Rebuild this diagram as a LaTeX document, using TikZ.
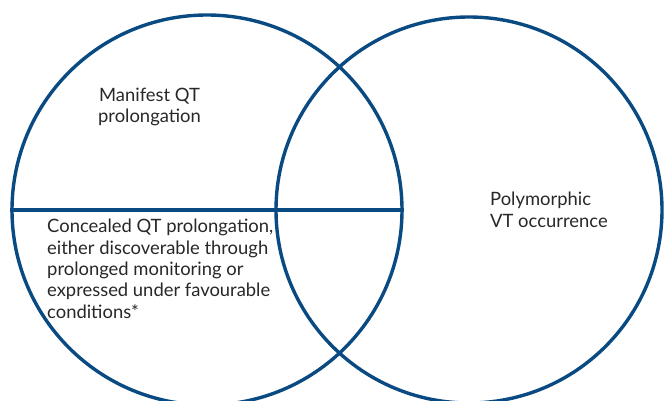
\documentclass[tikz,border=0pt]{standalone}
\usepackage{fontspec}
\setmainfont{Lato}
\definecolor{vblue}{RGB}{10,74,130}
\definecolor{vtext}{RGB}{40,40,40}
\begin{document}
\begin{tikzpicture}[x=1pt,y=-1pt,
  ring/.style={circle,draw=vblue,line width=3.4pt,inner sep=0pt,minimum size=#1},
  lbl/.style={text=vtext,inner sep=0pt,font=\fontsize{18.4pt}{21.3pt}\selectfont}]
\useasboundingbox (0,0) rectangle (664,401);
\clip (0,0) rectangle (664,401);
\fill[white] (0,0) rectangle (664,401);
\node[ring=390pt] (L) at (207,210) {};
\node[ring=386pt] (R) at (469,210) {};
\draw[vblue,line width=3.4pt] (L.west) -- (L.east);
\node[lbl,align=center,anchor=base] (man) at (149.5,123) {Manifest QT\\prolongation};
\node[lbl,align=left,anchor=base west] (con) at (47,318) {Concealed QT prolongation,\\either discoverable through\\prolonged monitoring or\\expressed under favourable\\conditions*};
\node[lbl,align=left,anchor=base west] (poly) at (490,227) {Polymorphic\\VT occurrence};
\end{tikzpicture}
\end{document}
